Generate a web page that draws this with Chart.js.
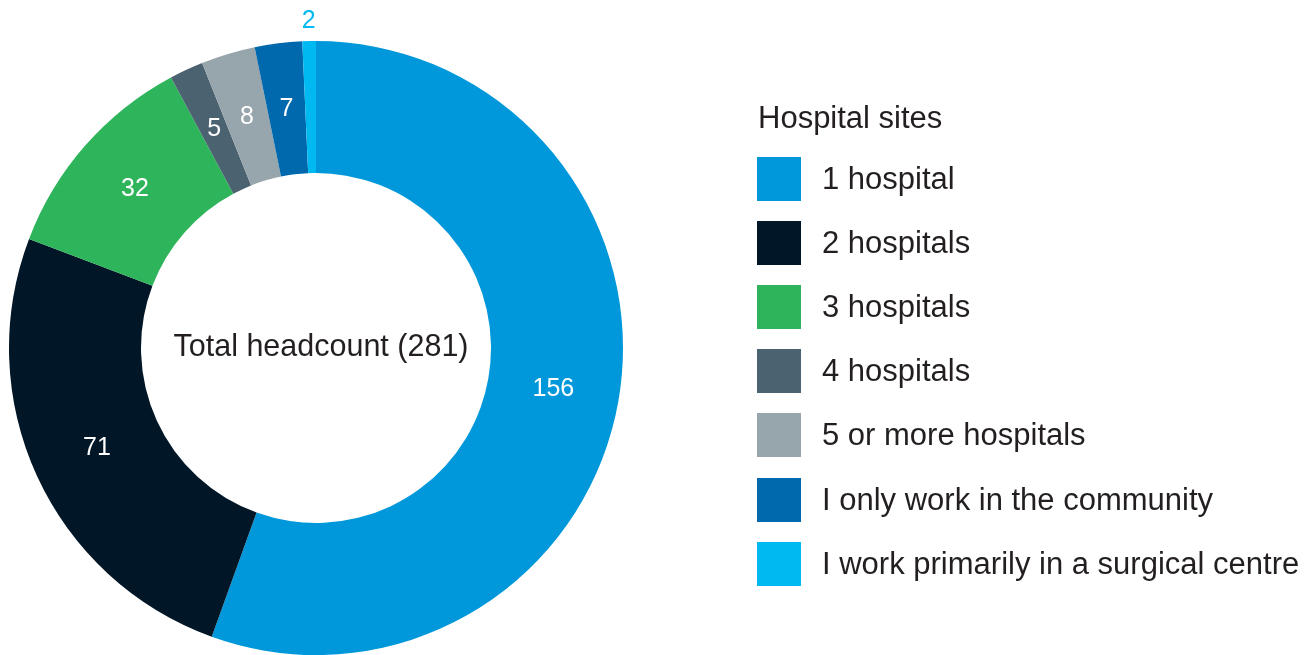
<!DOCTYPE html>
<html>
<head>
<meta charset="utf-8">
<script src="https://cdn.jsdelivr.net/npm/chart.js@4.4.1/dist/chart.umd.min.js"></script>
<style>
  html, body { margin: 0; padding: 0; background: #fff; overflow: hidden; }
  #wrap { position: relative; width: 1315px; height: 655px; }
  #chart { position: absolute; left: 0; top: 0; }
  #legend { position: absolute; left: 757px; top: 100px; font-family: "Liberation Sans", Arial, sans-serif; color: #231f20; }
  #legend .title { font-size: 31px; line-height: 36px; margin-left: 1px; height: 47px; }
  #legend .row { display: flex; align-items: center; height: 64.1px; }
  #legend .box { width: 44px; height: 44px; margin-right: 21px; }
  #legend .lbl { font-size: 31px; }
</style>
</head>
<body>
<div id="wrap">
  <canvas id="chart" width="1315" height="655"></canvas>
  <div id="legend"></div>
</div>
<script>
// data
const legendTitle = 'Hospital sites';
const categories = ['1 hospital', '2 hospitals', '3 hospitals', '4 hospitals', '5 or more hospitals', 'I only work in the community', 'I work primarily in a surgical centre'];
const headcount = [156, 71, 32, 5, 8, 7, 2];
const colours = ['#0098da', '#011627', '#2eb45b', '#4b6270', '#97a5ac', '#0068ad', '#00b9f1'];
const outsideLabels = [false, false, false, false, false, false, true];

const total = headcount.reduce((a, b) => a + b, 0);
const FONT = '"Liberation Sans", Arial, sans-serif';

// legend (html)
const legend = document.getElementById('legend');
legend.innerHTML = `<div class="title">${legendTitle}</div>` +
  categories.map((c, i) => `<div class="row"><div class="box" style="background:${colours[i]}"></div><span class="lbl">${c}</span></div>`).join('');

// slice labels + centre text
const sliceLabels = {
  id: 'sliceLabels',
  afterDatasetsDraw(chart) {
    const ctx = chart.ctx;
    const meta = chart.getDatasetMeta(0);
    ctx.save();
    ctx.textAlign = 'center';
    ctx.textBaseline = 'middle';
    ctx.font = '25px ' + FONT;
    meta.data.forEach((arc, i) => {
      const p = arc.getProps(['x', 'y', 'startAngle', 'endAngle', 'innerRadius', 'outerRadius'], true);
      const mid = (p.startAngle + p.endAngle) / 2;
      let r = (p.innerRadius + p.outerRadius) / 2;
      ctx.fillStyle = '#ffffff';
      if (outsideLabels[i]) { r = p.outerRadius + 20; ctx.fillStyle = colours[i]; }
      ctx.fillText(headcount[i], p.x + Math.cos(mid) * r, p.y + Math.sin(mid) * r);
    });
    const c = meta.data[0];
    ctx.fillStyle = '#231f20';
    ctx.font = '30.5px ' + FONT;
    ctx.fillText(`Total headcount (${total})`, c.x + 5, c.y);
    ctx.restore();
  }
};

new Chart(document.getElementById('chart'), {
  type: 'doughnut',
  data: {
    labels: categories,
    datasets: [{ data: headcount, backgroundColor: colours, borderWidth: 0, hoverOffset: 0 }]
  },
  options: {
    responsive: false,
    animation: false,
    cutout: '57%',
    layout: { padding: { left: 9, right: 692, top: 41, bottom: 0 } },
    plugins: { legend: { display: false }, tooltip: { enabled: false } }
  },
  plugins: [sliceLabels]
});
</script>
</body>
</html>
